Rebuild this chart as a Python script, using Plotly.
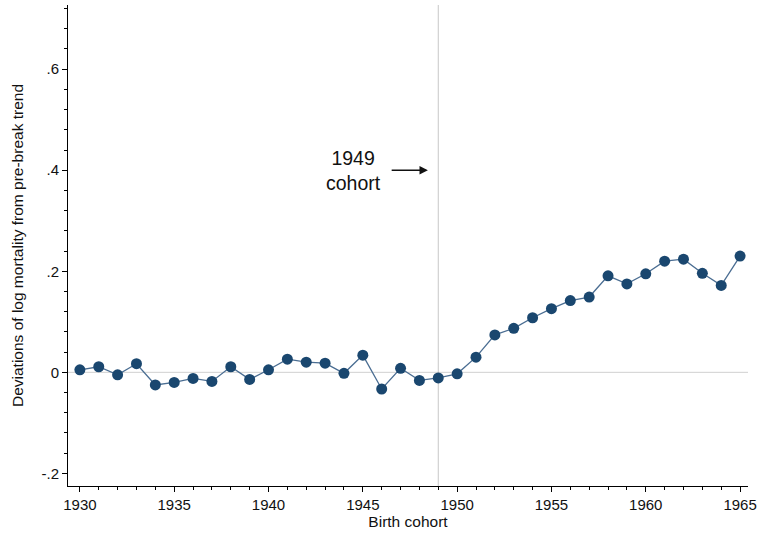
import plotly.graph_objects as go

# Birth cohorts and deviations of log mortality from the pre-break trend
cohorts = list(range(1930, 1966))
deviations = [
    0.005, 0.011, -0.005, 0.017, -0.025, -0.020, -0.012, -0.018, 0.011, -0.014,
    0.005, 0.026, 0.020, 0.018, -0.002, 0.034, -0.033, 0.008, -0.016, -0.011,
    -0.003, 0.030, 0.074, 0.087, 0.108, 0.126, 0.142, 0.149, 0.191, 0.175,
    0.195, 0.220, 0.224, 0.196, 0.172, 0.230,
]

x_ticks = [1930, 1935, 1940, 1945, 1950, 1955, 1960, 1965]
y_ticks = [-0.2, 0, 0.2, 0.4, 0.6]
y_tick_labels = ["-.2", "0", ".2", ".4", ".6"]

break_cohort = 1949
annotation_text = "1949<br>cohort"

navy = "#1a476f"
font_family = "Liberation Sans, Arial, sans-serif"

fig = go.Figure()
fig.add_trace(go.Scatter(
    x=cohorts, y=deviations, mode="lines+markers",
    line=dict(color="#4a6d92", width=1.3),
    marker=dict(color=navy, size=11, line=dict(width=0)),
    showlegend=False,
))

# reference lines: zero deviation and the break cohort
fig.add_shape(type="line", xref="paper", x0=0, x1=1, yref="y", y0=0, y1=0,
              line=dict(color="#d0d0d0", width=1), layer="below")
fig.add_shape(type="line", xref="x", x0=break_cohort, x1=break_cohort,
              yref="paper", y0=0, y1=1,
              line=dict(color="#c8c8c8", width=1), layer="below")

# label pointing at the break
fig.add_annotation(x=1944.5, y=0.4, xref="x", yref="y", text=annotation_text,
                   showarrow=False, font=dict(family=font_family, size=19.5, color="#111"),
                   align="center")
fig.add_annotation(x=1948.45, y=0.4, ax=1946.45, ay=0.4, xref="x", yref="y",
                   axref="x", ayref="y", text="", showarrow=True,
                   arrowhead=2, arrowsize=1.2, arrowwidth=1.4, arrowcolor="#111")

fig.update_layout(
    width=762, height=533,
    margin=dict(l=68, r=9, t=5, b=47),
    paper_bgcolor="white", plot_bgcolor="white",
    font=dict(family=font_family, size=15, color="#111"),
    xaxis=dict(
        range=[1929.37, 1965.42], tickvals=x_ticks,
        showgrid=False, zeroline=False,
        showline=True, linecolor="black", linewidth=1,
        ticks="outside", ticklen=5, tickcolor="black",
        minor=dict(dtick=1, tick0=1930, ticks="outside", ticklen=3, tickcolor="black"),
        tickfont=dict(size=15),
        title=dict(text="Birth cohort", font=dict(size=15.5), standoff=4),
    ),
    yaxis=dict(
        range=[-0.225, 0.727], tickvals=y_ticks, ticktext=y_tick_labels,
        showgrid=False, zeroline=False,
        showline=True, linecolor="black", linewidth=1,
        ticks="outside", ticklen=5, tickcolor="black",
        minor=dict(dtick=0.04, tick0=0, ticks="outside", ticklen=3, tickcolor="black"),
        tickfont=dict(size=15),
        title=dict(text="Deviations of log mortality from pre-break trend",
                   font=dict(size=15.5), standoff=14),
    ),
)

fig.write_html("out.html")
